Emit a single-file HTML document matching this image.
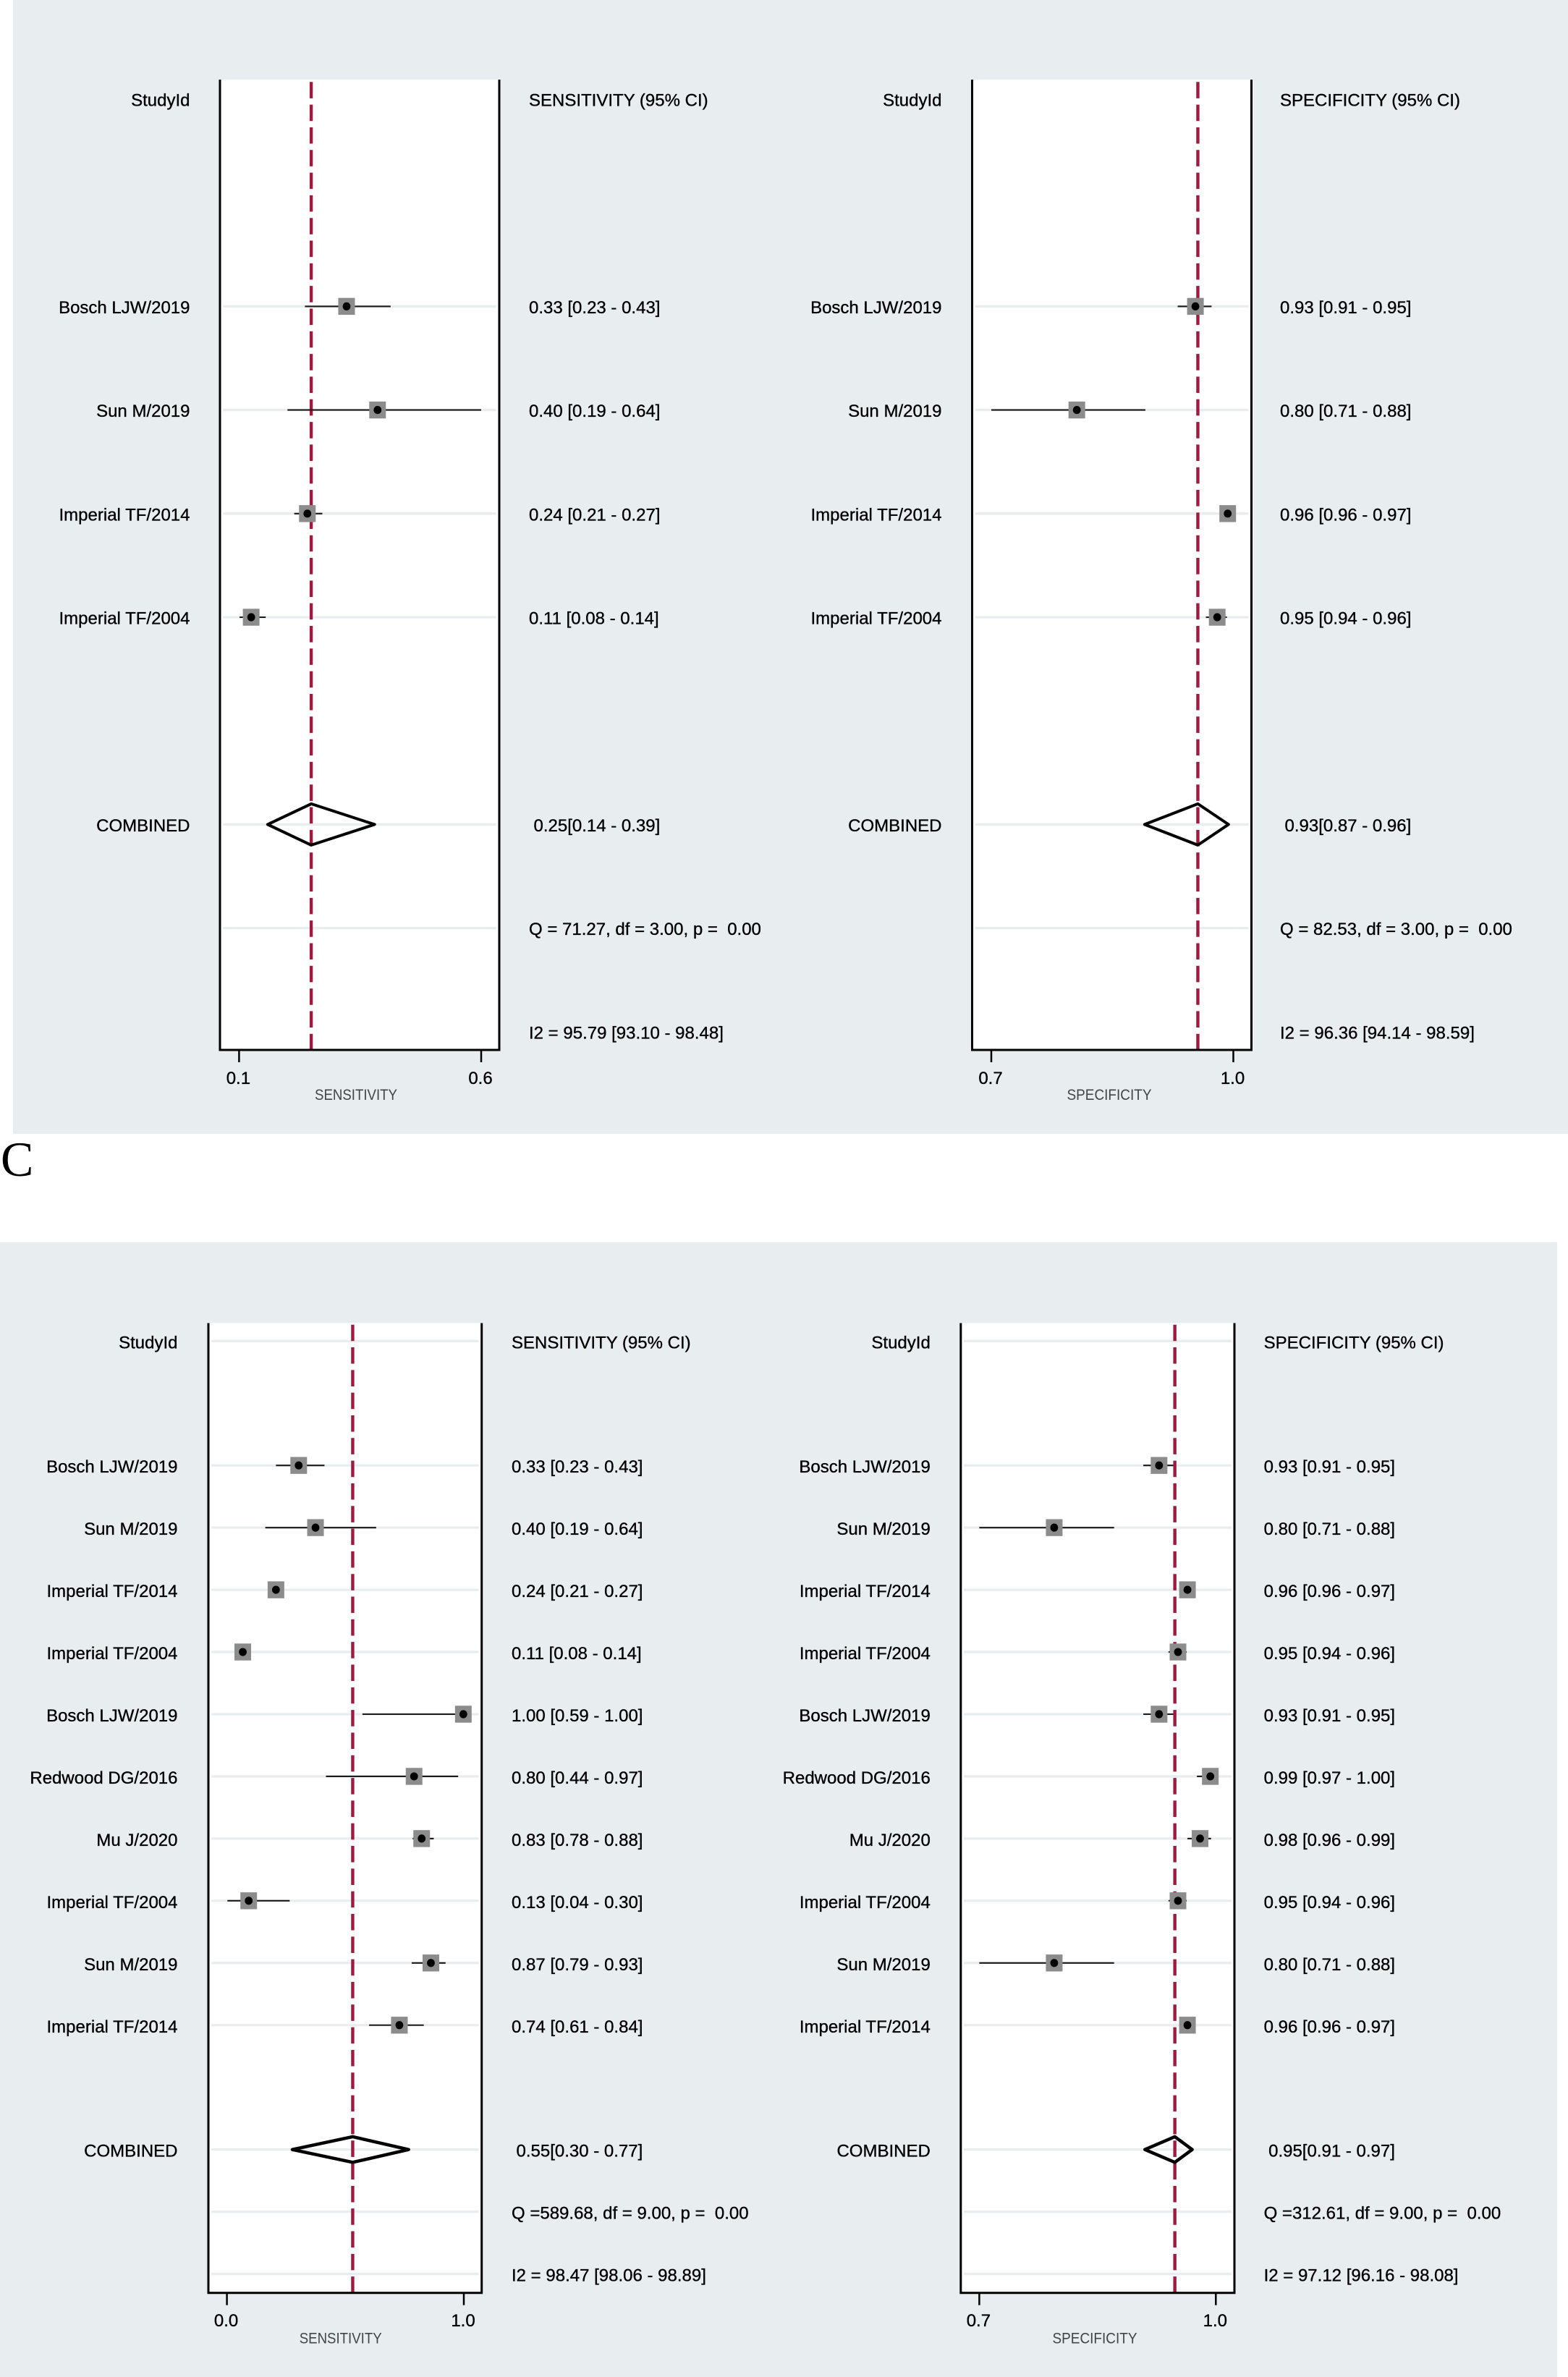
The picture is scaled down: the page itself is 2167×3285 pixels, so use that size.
<!DOCTYPE html>
<html lang="en">
<head>
<meta charset="utf-8">
<title>Forest plots of sensitivity and specificity</title>
<style>
html,body{margin:0;padding:0;background:#fff;}
svg{display:block;}
text{font-family:"Liberation Sans",sans-serif;font-size:24px;fill:#000;stroke:#000;stroke-width:0.35px;white-space:pre;}
</style>
</head>
<body>
<svg id="figure" xmlns="http://www.w3.org/2000/svg" width="2167" height="3285" viewBox="0 0 2167 3285">
  <rect x="0" y="0" width="2167" height="3285" fill="#ffffff"/>
  <rect x="18" y="0" width="2149" height="1567" fill="#e8edf0"/>
  <rect x="0" y="1717" width="2152" height="1568" fill="#e8edf0"/>
  <text x="1" y="1625" style="font-family:'Liberation Serif',serif;font-size:68px;stroke:none;">C</text>
</svg>
<script>
// ---------- Top figure data ----------
var topStudies = ['Bosch LJW/2019', 'Sun M/2019', 'Imperial TF/2014', 'Imperial TF/2004'];
var topSensEst = [0.322, 0.386, 0.241, 0.125];
var topSensLow = [0.236, 0.200, 0.214, 0.101];
var topSensHigh = [0.413, 0.600, 0.272, 0.155];
var topSensPrinted = ['0.33 [0.23 - 0.43]', '0.40 [0.19 - 0.64]', '0.24 [0.21 - 0.27]', '0.11 [0.08 - 0.14]'];
var topSensCombined = [0.159, 0.249, 0.380];
var topSensStats = ['0.25[0.14 - 0.39]', 'Q = 71.27, df = 3.00, p =  0.00', 'I2 = 95.79 [93.10 - 98.48]'];
var topSensTicks = [0.1, 0.6];
var topSensTickLabels = ['0.1', '0.6'];

var topSpecEst = [0.953, 0.806, 0.993, 0.980];
var topSpecLow = [0.931, 0.700, 0.989, 0.966];
var topSpecHigh = [0.973, 0.891, 0.997, 0.992];
var topSpecPrinted = ['0.93 [0.91 - 0.95]', '0.80 [0.71 - 0.88]', '0.96 [0.96 - 0.97]', '0.95 [0.94 - 0.96]'];
var topSpecCombined = [0.890, 0.956, 0.994];
var topSpecStats = ['0.93[0.87 - 0.96]', 'Q = 82.53, df = 3.00, p =  0.00', 'I2 = 96.36 [94.14 - 98.59]'];
var topSpecTicks = [0.7, 1.0];
var topSpecTickLabels = ['0.7', '1.0'];

// ---------- Bottom figure data ----------
var bottomStudies = ['Bosch LJW/2019', 'Sun M/2019', 'Imperial TF/2014', 'Imperial TF/2004', 'Bosch LJW/2019', 'Redwood DG/2016', 'Mu J/2020', 'Imperial TF/2004', 'Sun M/2019', 'Imperial TF/2014'];
var bottomSensEst = [0.303, 0.374, 0.207, 0.067, 0.998, 0.790, 0.822, 0.092, 0.861, 0.728];
var bottomSensLow = [0.207, 0.162, 0.190, 0.050, 0.572, 0.418, 0.784, 0.002, 0.780, 0.600];
var bottomSensHigh = [0.412, 0.630, 0.230, 0.090, 1.000, 0.976, 0.873, 0.265, 0.923, 0.831];
var bottomSensPrinted = ['0.33 [0.23 - 0.43]', '0.40 [0.19 - 0.64]', '0.24 [0.21 - 0.27]', '0.11 [0.08 - 0.14]', '1.00 [0.59 - 1.00]', '0.80 [0.44 - 0.97]', '0.83 [0.78 - 0.88]', '0.13 [0.04 - 0.30]', '0.87 [0.79 - 0.93]', '0.74 [0.61 - 0.84]'];
var bottomSensCombined = [0.276, 0.531, 0.767];
var bottomSensStats = ['0.55[0.30 - 0.77]', 'Q =589.68, df = 9.00, p =  0.00', 'I2 = 98.47 [98.06 - 98.89]'];
var bottomSensTicks = [0.0, 1.0];
var bottomSensTickLabels = ['0.0', '1.0'];

var bottomSpecEst = [0.928, 0.795, 0.964, 0.952, 0.928, 0.993, 0.980, 0.952, 0.795, 0.964];
var bottomSpecLow = [0.908, 0.700, 0.960, 0.940, 0.908, 0.976, 0.964, 0.940, 0.700, 0.960];
var bottomSpecHigh = [0.946, 0.871, 0.968, 0.963, 0.946, 1.003, 0.994, 0.963, 0.871, 0.968];
var bottomSpecPrinted = ['0.93 [0.91 - 0.95]', '0.80 [0.71 - 0.88]', '0.96 [0.96 - 0.97]', '0.95 [0.94 - 0.96]', '0.93 [0.91 - 0.95]', '0.99 [0.97 - 1.00]', '0.98 [0.96 - 0.99]', '0.95 [0.94 - 0.96]', '0.80 [0.71 - 0.88]', '0.96 [0.96 - 0.97]'];
var bottomSpecCombined = [0.910, 0.948, 0.970];
var bottomSpecStats = ['0.95[0.91 - 0.97]', 'Q =312.61, df = 9.00, p =  0.00', 'I2 = 97.12 [96.16 - 98.08]'];
var bottomSpecTicks = [0.7, 1.0];
var bottomSpecTickLabels = ['0.7', '1.0'];

// ---------- Drawing ----------
var svg = document.getElementById('figure');
var SVG_NS = 'http://www.w3.org/2000/svg';

function make(tag, attrs, parent) {
  var el = document.createElementNS(SVG_NS, tag);
  for (var k in attrs) { el.setAttribute(k, attrs[k]); }
  parent.appendChild(el);
  return el;
}

function label(parent, x, y, str, anchor) {
  var t = make('text', {x: x, y: y, 'text-anchor': anchor || 'start'}, parent);
  t.textContent = str;
  return t;
}

function drawForest(c) {
  var g = make('g', {}, svg);
  
  

  var xScale = function (v) {
    return c.tick0 + (v - c.ticks[0]) * (c.tick1 - c.tick0) / (c.ticks[1] - c.ticks[0]);
  };
  var rowY = function (k) { return c.rowTop + k * c.rowStep; };

  var n = c.studies.length;
  var firstRow = 2;
  var combinedRow = firstRow + n + 1;
  var qRow = combinedRow + 1;
  var i2Row = combinedRow + 2;

  var plot = make('rect', {x: c.left, y: c.top, width: c.right - c.left, height: c.bottom - c.top, fill: '#ffffff'}, g);
  
  

  // row grid lines
  var gridRows = [];
  var r;
  for (r = 0; r < n; r++) { gridRows.push(firstRow + r); }
  gridRows.push(combinedRow, qRow);
  if (c.edgeGrid) { gridRows.push(0, i2Row); }
  gridRows.forEach(function (row) {
    var gl = make('line', {x1: c.left + 4, x2: c.right - 4, y1: rowY(row), y2: rowY(row), stroke: '#e8edf0', 'stroke-width': 3.3}, g);
    
    
  });

  // pooled reference line
  var ref = make('line', {x1: xScale(c.combined[1]), x2: xScale(c.combined[1]), y1: c.dashStart, y2: c.bottom, stroke: '#9f1a3e', 'stroke-width': 4.4, 'stroke-dasharray': '22.6 8.72'}, g);
  
  

  // study rows
  c.studies.forEach(function (study, i) {
    var y = rowY(firstRow + i);

    var ci = make('line', {x1: xScale(c.low[i]), x2: xScale(c.high[i]), y1: y, y2: y, stroke: '#1a1a1a', 'stroke-width': 2.1}, g);
    
    

    var box = make('rect', {x: xScale(c.est[i]) - 11.5, y: y - 11.7, width: 23, height: 23.4, fill: '#8c8c8c'}, g);
    
    

    var dot = make('ellipse', {cx: xScale(c.est[i]), cy: y, rx: 5.4, ry: 5.6, fill: '#000000'}, g);
    
    

    var nameText = label(g, c.labelX, y + c.textDy, study, 'end');
    
    

    var valText = label(g, c.valueX, y + c.textDy, c.printed[i]);
    
    
  });

  // combined diamond
  var dy = rowY(combinedRow);
  var points = [
    xScale(c.combined[0]) + ',' + dy,
    xScale(c.combined[1]) + ',' + (dy - c.diamondH),
    xScale(c.combined[2]) + ',' + dy,
    xScale(c.combined[1]) + ',' + (dy + c.diamondH)
  ].join(' ');
  var diamond = make('polygon', {points: points, fill: 'none', stroke: '#000000', 'stroke-width': c.diamondStroke, 'stroke-linejoin': 'round'}, g);
  
  

  // header and summary text
  var h1 = label(g, c.labelX, rowY(0) + c.textDy, 'StudyId', 'end');
  
  

  var h2 = label(g, c.valueX, rowY(0) + c.textDy, c.header);
  
  

  var cl = label(g, c.labelX, dy + c.textDy, 'COMBINED', 'end');
  
  

  var cv = label(g, c.valueX + 6.5, dy + c.textDy, c.stats[0]);
  
  

  var qt = label(g, c.valueX, rowY(qRow) + c.textDy, c.stats[1]);
  
  

  var it = label(g, c.valueX, rowY(i2Row) + c.textDy, c.stats[2]);
  
  

  // axis frame
  var frame = make('path', {d: 'M' + c.left + ' ' + c.top + 'V' + c.bottom + 'H' + c.right + 'V' + c.top, fill: 'none', stroke: '#000000', 'stroke-width': 3}, g);
  
  

  // ticks
  c.ticks.forEach(function (tv, i) {
    var tk = make('line', {x1: xScale(tv), x2: xScale(tv), y1: c.bottom, y2: c.bottom + 17, stroke: '#000000', 'stroke-width': 2.5}, g);
    
    

    var tl = label(g, xScale(tv) - 1, c.bottom + c.tickDy, c.tickLabels[i], 'middle');
    
    
  });

  // axis title
  var title = label(g, c.titleX, c.bottom + c.titleDy, c.axisTitle, 'middle');
  title.setAttribute('textLength', c.titleW);
  title.setAttribute('lengthAdjust', 'spacingAndGlyphs');
  title.style.fontSize = '21px';
  title.style.fill = '#444444';
  title.style.stroke = 'none';
  
  
}

drawForest({
  name: 'top-sensitivity-forest-plot', studies: topStudies, est: topSensEst, low: topSensLow, high: topSensHigh,
  printed: topSensPrinted, combined: topSensCombined, stats: topSensStats, ticks: topSensTicks, tickLabels: topSensTickLabels,
  header: 'SENSITIVITY (95% CI)', axisTitle: 'SENSITIVITY',
  left: 304, right: 690, top: 110, bottom: 1451, tick0: 330.4, tick1: 665, dashStart: 113.3,
  rowTop: 137, rowStep: 143.2, labelX: 262.5, valueX: 731, textDy: 9.5, edgeGrid: false,
  diamondH: 28.5, diamondStroke: 4, tickDy: 47, titleDy: 69, titleX: 492, titleW: 114
});
drawForest({
  name: 'top-specificity-forest-plot', studies: topStudies, est: topSpecEst, low: topSpecLow, high: topSpecHigh,
  printed: topSpecPrinted, combined: topSpecCombined, stats: topSpecStats, ticks: topSpecTicks, tickLabels: topSpecTickLabels,
  header: 'SPECIFICITY (95% CI)', axisTitle: 'SPECIFICITY',
  left: 1343.5, right: 1729.5, top: 110, bottom: 1451, tick0: 1370, tick1: 1704.5, dashStart: 113.3,
  rowTop: 137, rowStep: 143.2, labelX: 1301.5, valueX: 1769, textDy: 9.5, edgeGrid: false,
  diamondH: 28.5, diamondStroke: 4, tickDy: 47, titleDy: 69, titleX: 1533, titleW: 117
});
drawForest({
  name: 'bottom-sensitivity-forest-plot', studies: bottomStudies, est: bottomSensEst, low: bottomSensLow, high: bottomSensHigh,
  printed: bottomSensPrinted, combined: bottomSensCombined, stats: bottomSensStats, ticks: bottomSensTicks, tickLabels: bottomSensTickLabels,
  header: 'SENSITIVITY (95% CI)', axisTitle: 'SENSITIVITY',
  left: 288, right: 665.7, top: 1828.5, bottom: 3168.7, tick0: 313.6, tick1: 641, dashStart: 1830.7,
  rowTop: 1853.3, rowStep: 85.95, labelX: 245.5, valueX: 707, textDy: 10, edgeGrid: true,
  diamondH: 17.7, diamondStroke: 4.5, tickDy: 46.5, titleDy: 70, titleX: 470.7, titleW: 114
});
drawForest({
  name: 'bottom-specificity-forest-plot', studies: bottomStudies, est: bottomSpecEst, low: bottomSpecLow, high: bottomSpecHigh,
  printed: bottomSpecPrinted, combined: bottomSpecCombined, stats: bottomSpecStats, ticks: bottomSpecTicks, tickLabels: bottomSpecTickLabels,
  header: 'SPECIFICITY (95% CI)', axisTitle: 'SPECIFICITY',
  left: 1327.8, right: 1706, top: 1828.5, bottom: 3168.7, tick0: 1353.4, tick1: 1680.3, dashStart: 1830.7,
  rowTop: 1853.3, rowStep: 85.95, labelX: 1285.8, valueX: 1746.6, textDy: 10, edgeGrid: true,
  diamondH: 17.7, diamondStroke: 4.5, tickDy: 46.5, titleDy: 70, titleX: 1513, titleW: 117
});
</script>
</body>
</html>
